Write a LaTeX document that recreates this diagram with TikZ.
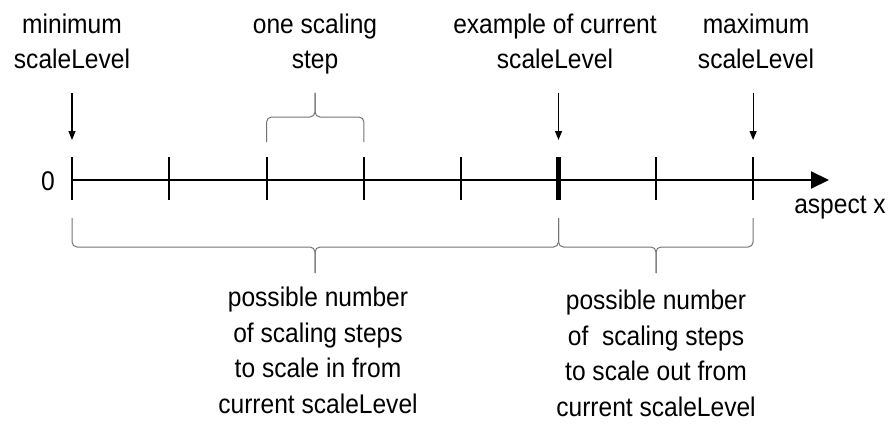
\documentclass[tikz,border=0pt]{standalone}
\usepackage{fontspec}
\setmainfont[FakeStretch=0.91]{Liberation Sans}
\usetikzlibrary{arrows.meta}
\begin{document}
\begin{tikzpicture}[x=1pt,y=-1pt,
  lbl/.style={font=\fontsize{27}{35.5}\selectfont, align=center, inner sep=0pt, anchor=base},
  bracepath/.style={draw=black!55, line width=1pt, rounded corners=5pt},
  ptr/.style={line width=1.2pt, -{Triangle[length=9pt,width=7pt]}},
  tickline/.style={line width=2pt}]
\useasboundingbox (0,0) rectangle (890,425);
% tick coordinates
\foreach \i in {0,...,7} \coordinate (t\i) at ({72+97.3*\i},180);
\coordinate (axisend) at (829,180);
% axis
\draw[line width=2pt, -{Triangle[length=18pt,width=17pt]}] (t0) -- (axisend);
\foreach \i in {0,1,2,3,4,6,7} \draw[tickline] ([yshift=23pt]t\i) -- ([yshift=-20pt]t\i);
\draw[line width=4.5pt] ([yshift=23pt]t5) -- ([yshift=-20pt]t5);
% labels (anchor=base is the baseline of the last line)
\node[lbl] (min) at (72,69) {minimum\\scaleLevel};
\node[lbl] (one) at (315,69) {one scaling\\step};
\node[lbl] (cur) at (555,69) {example of current\\scaleLevel};
\node[lbl] (max) at (756,69) {maximum\\scaleLevel};
\node[lbl] (zero) at (48,190) {0};
\node[lbl] (asp) at (840,213) {aspect x};
\node[lbl] (in) at (318,413) {possible number\\of scaling steps\\to scale in from\\current scaleLevel};
\node[lbl] (out) at (656,416) {possible number\\of\ \ scaling steps\\to scale out from\\current scaleLevel};
% pointers
\coordinate (p0) at (72,93);
\coordinate (p5) at (t5 |- p0);
\coordinate (p7) at (t7 |- p0);
\draw[ptr] (p0) -- ([yshift=40pt]t0);
\draw[ptr] (p5) -- ([yshift=40pt]t5);
\draw[ptr] (p7) -- ([yshift=40pt]t7);
% top brace (one step)
\coordinate (bt) at (315,93);
\draw[bracepath] ([yshift=38pt]t2) |- (315,117) -- (bt);
\draw[bracepath] ([yshift=38pt]t3) |- (315,117) -- (bt);
% bottom braces
\coordinate (bin) at (315,273);
\coordinate (bout) at (656,273);
\draw[bracepath] ([yshift=-38pt]t0) |- (315,247) -- (bin);
\draw[bracepath] ([yshift=-38pt]t5) |- (315,247) -- (bin);
\draw[bracepath] ([yshift=-38pt]t5) |- (656,247) -- (bout);
\draw[bracepath] ([yshift=-38pt]t7) |- (656,247) -- (bout);
\end{tikzpicture}
\end{document}
